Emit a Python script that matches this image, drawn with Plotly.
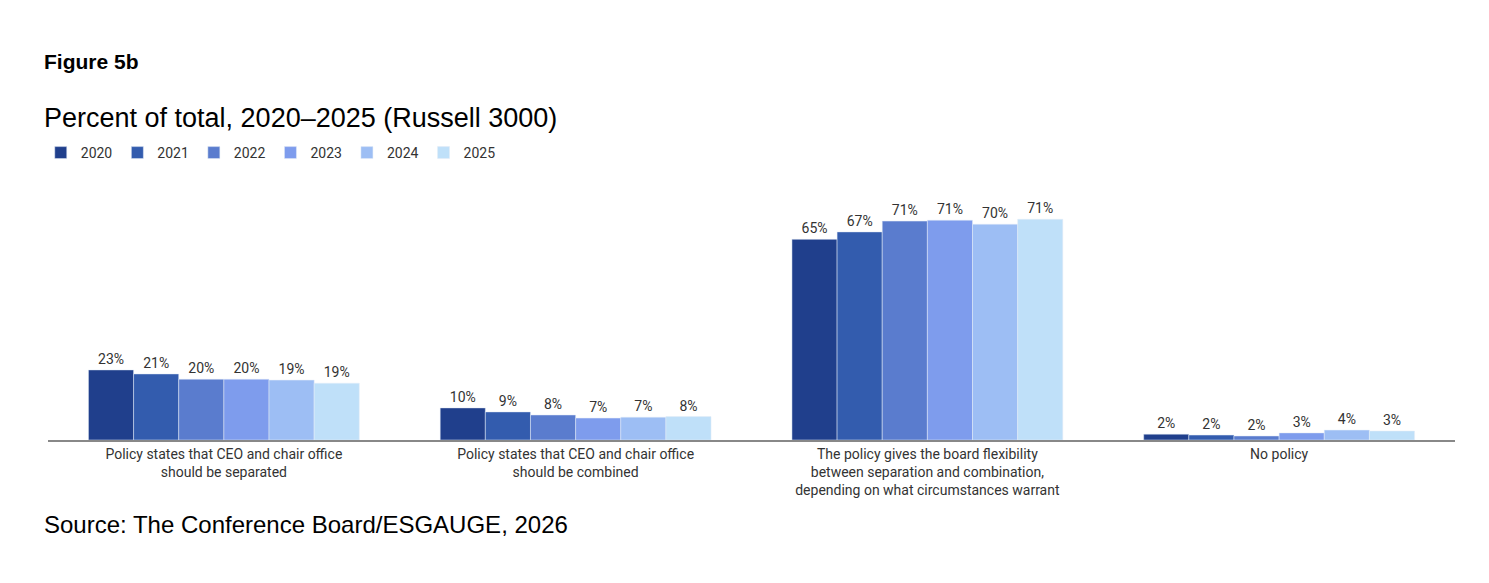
import plotly.graph_objects as go

categories = ["Policy states that CEO and chair office<br>should be separated",
              "Policy states that CEO and chair office<br>should be combined",
              "The policy gives the board flexibility<br>between separation and combination,<br>depending on what circumstances warrant",
              "No policy"]
years = ["2020", "2021", "2022", "2023", "2024", "2025"]
values = {
    "2020": [22.7, 10.4, 65.0, 1.9],
    "2021": [21.4, 9.1, 67.4, 1.6],
    "2022": [19.7, 8.1, 70.9, 1.3],
    "2023": [19.7, 7.1, 71.2, 2.3],
    "2024": [19.4, 7.4, 69.9, 3.2],
    "2025": [18.4, 7.6, 71.5, 2.9],
}
labels = {
    "2020": ["23%", "10%", "65%", "2%"],
    "2021": ["21%", "9%", "67%", "2%"],
    "2022": ["20%", "8%", "71%", "2%"],
    "2023": ["20%", "7%", "71%", "3%"],
    "2024": ["19%", "7%", "70%", "4%"],
    "2025": ["19%", "8%", "71%", "3%"],
}
colors = ["#203f8c", "#335cae", "#5a7cce", "#7e9ced", "#9dbef4", "#bfe0f9"]

fig = go.Figure()
for y, c in zip(years, colors):
    fig.add_bar(x=categories, y=values[y], name=y, marker_color=c,
                text=labels[y], textposition="outside", cliponaxis=False,
                textfont=dict(family="Roboto", size=14, color="#333"))

fig.update_layout(
    width=1489, height=583, plot_bgcolor="white", paper_bgcolor="white",
    margin=dict(l=40, r=42, t=185, b=151),
    barmode="group", bargap=0.23, bargroupgap=0,
    font=dict(family="Roboto", size=14, color="#333"),
    yaxis=dict(range=[0, 80], visible=False),
    xaxis=dict(showline=True, linecolor="#888", linewidth=1.5, ticks="",
               tickfont=dict(family="Roboto", size=14, color="#333")),
    legend=dict(orientation="h", x=0.022, xanchor="left", y=1 - 145/583, yanchor="middle",
                xref="container", yref="container",
                font=dict(family="Roboto", size=14, color="#333"),
                itemwidth=30, traceorder="normal"),
    showlegend=True,
)

def py(p):
    return (432 - p) / 247

x0 = (34 - 40) / 1407
fig.add_annotation(text="<b>Figure 5b</b>", xref="paper", yref="paper", x=x0, y=py(53),
                   xanchor="left", yanchor="middle", showarrow=False,
                   font=dict(family="Arial", size=21, color="#000"))
fig.add_annotation(text="Percent of total, 2020–2025 (Russell 3000)", xref="paper", yref="paper",
                   x=x0, y=py(110), xanchor="left", yanchor="middle", showarrow=False,
                   font=dict(family="Arial", size=27, color="#000"))
fig.add_annotation(text="Source: The Conference Board/ESGAUGE, 2026", xref="paper", yref="paper",
                   x=x0, y=py(516), xanchor="left", yanchor="middle", showarrow=False,
                   font=dict(family="Arial", size=24, color="#000"))
fig.write_html("out.html")
